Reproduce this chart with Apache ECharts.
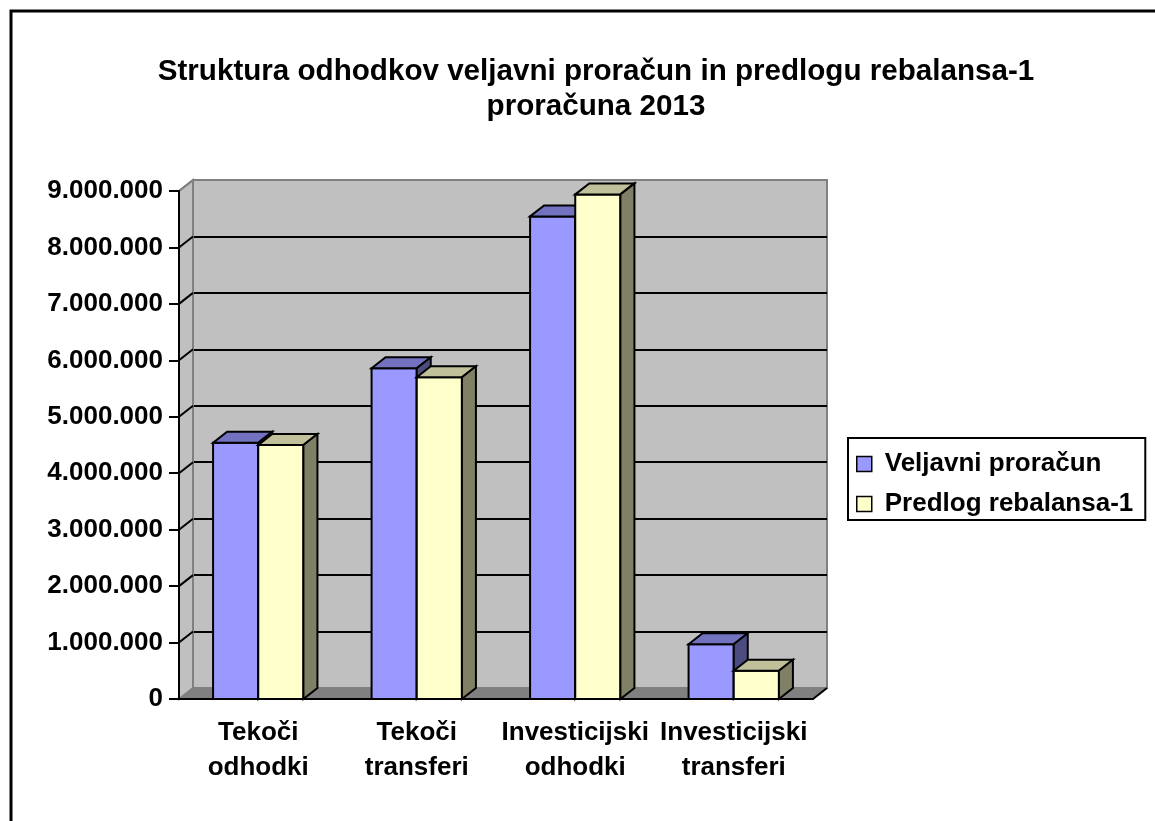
<!DOCTYPE html>
<html>
<head>
<meta charset="utf-8">
<title>Struktura odhodkov</title>
<script src="https://cdn.jsdelivr.net/npm/echarts@6/dist/echarts.min.js"></script>
<style>
	html, body {margin:0; padding:0; background:#fff;}
	#chart {width:1155px; height:821px;}
</style>
</head>
<body>
<div id="chart"></div>
<script>
// podatki
var categories = ['Tekoči\nodhodki', 'Tekoči\ntransferi', 'Investicijski\nodhodki', 'Investicijski\ntransferi'];
var seriesNames = ['Veljavni proračun', 'Predlog rebalansa-1'];
var veljavni = [4540000, 5860000, 8550000, 970000];
var predlog = [4500000, 5700000, 8940000, 500000];
var yTicks = [0, 1000000, 2000000, 3000000, 4000000, 5000000, 6000000, 7000000, 8000000, 9000000];

var DX = 14, DY = 11; // globina 3D
var FONT = '"Liberation Sans", Arial, sans-serif';
var faceColors = [
	{front: '#9999FF', top: '#7272C0', side: '#4C4C80'},
	{front: '#FFFFCC', top: '#C0C09A', side: '#808066'}
];

function fmt(v){
	return String(v).replace(/\B(?=(\d{3})+(?!\d))/g, '.');
}

function toData(arr){
	return arr.map(function(v, i){ return [i, v]; });
}

// 3D stolpec: sprednja, zgornja in stranska ploskev
function barRenderer(idx){
	return function(params, api){
		var top = api.coord([api.value(0), api.value(1)]);
		var base = api.coord([api.value(0), 0]);
		var w = api.size([1, 0])[0] * 0.285;
		var x0 = top[0] - w + idx * w, x1 = x0 + w;
		var c = faceColors[idx];
		var line = {stroke: '#000', lineWidth: 2, lineJoin: 'miter'};
		return {
			type: 'group',
			children: [
				{type: 'rect', shape: {x: x0, y: top[1], width: w, height: base[1] - top[1]},
					style: Object.assign({fill: c.front}, line)},
				{type: 'polygon', shape: {points: [[x0, top[1]], [x0 + DX, top[1] - DY], [x1 + DX, top[1] - DY], [x1, top[1]]]},
					style: Object.assign({fill: c.top}, line)},
				{type: 'polygon', shape: {points: [[x1, top[1]], [x1 + DX, top[1] - DY], [x1 + DX, base[1] - DY], [x1, base[1]]]},
					style: Object.assign({fill: c.side}, line)}
			]
		};
	};
}

// leva stena, tla in poševne črte mreže
function frameRenderer(params, api){
	var cs = params.coordSys;
	var v = api.value(0);
	var y = api.coord([0, v])[1];
	var children = [];
	if (params.dataIndex === 0){
		children.push({type: 'polygon', shape: {points: [[cs.x, cs.y], [cs.x + DX, cs.y - DY], [cs.x + DX, cs.y + cs.height - DY], [cs.x, cs.y + cs.height]]},
			style: {fill: '#C0C0C0', stroke: '#808080', lineWidth: 2}});
		children.push({type: 'polygon', shape: {points: [[cs.x, cs.y + cs.height], [cs.x + DX, cs.y + cs.height - DY], [cs.x + cs.width + DX, cs.y + cs.height - DY], [cs.x + cs.width, cs.y + cs.height]]},
			style: {fill: '#808080', stroke: '#808080', lineWidth: 1}});
		children.push({type: 'line', shape: {x1: cs.x + cs.width, y1: cs.y + cs.height, x2: cs.x + cs.width + DX, y2: cs.y + cs.height - DY},
			style: {stroke: '#000', lineWidth: 2}});
	} else {
		children.push({type: 'line', shape: {x1: cs.x, y1: y, x2: cs.x + DX, y2: y - DY},
			style: {stroke: params.dataIndex === yTicks.length - 1 ? '#808080' : '#000', lineWidth: 2}});
	}
	return {type: 'group', children: children};
}

var chart = echarts.init(document.getElementById('chart'));
var option = {
	backgroundColor: '#fff',
	animation: false,
	title: {
		text: 'Struktura odhodkov veljavni proračun in predlogu rebalansa-1\nproračuna 2013',
		left: 591,
		top: 49,
		textAlign: 'center',
		textStyle: {fontFamily: FONT, fontSize: 29.6, fontWeight: 'bold', color: '#000', lineHeight: 35}
	},
	legend: {
		orient: 'vertical',
		left: 848,
		top: 438,
		padding: [13, 12, 3, 8],
		itemGap: 14,
		itemWidth: 15,
		itemHeight: 15,
		borderColor: '#000',
		borderWidth: 2,
		icon: 'rect',
		textStyle: {fontFamily: FONT, fontSize: 26, fontWeight: 'bold', color: '#000', padding: [0, 0, 0, 8]},
		data: [
			{name: seriesNames[0], itemStyle: {color: faceColors[0].front, borderColor: '#000', borderWidth: 1.5}},
			{name: seriesNames[1], itemStyle: {color: faceColors[1].front, borderColor: '#000', borderWidth: 1.5}}
		]
	},
	graphic: [{
		type: 'rect',
		shape: {x: 11, y: 11, width: 1400, height: 1000},
		style: {fill: null, stroke: '#000', lineWidth: 3},
		silent: true
	}],
	grid: [
		// sprednja ravnina
		{left: 179, right: 342, top: 191, bottom: 122},
		// zadnja stena
		{left: 193, right: 328, top: 180, bottom: 133, show: true, backgroundColor: '#C0C0C0', borderColor: '#808080', borderWidth: 2}
	],
	xAxis: [
		{
			type: 'category', gridIndex: 0, data: categories, z: 10,
			axisLine: {lineStyle: {color: '#000', width: 2}},
			axisTick: {length: 10, lineStyle: {color: '#000', width: 2}},
			axisLabel: {margin: 16, fontFamily: FONT, fontSize: 26, fontWeight: 'bold', color: '#000', lineHeight: 35, interval: 0}
		},
		{type: 'category', gridIndex: 1, data: categories, show: false}
	],
	yAxis: [
		{
			type: 'value', gridIndex: 0, min: 0, max: 9000000, interval: 1000000, z: 10,
			axisLine: {show: true, lineStyle: {color: '#000', width: 2}},
			axisTick: {show: true, length: 10, lineStyle: {color: '#000', width: 2}},
			splitLine: {show: false},
			axisLabel: {margin: 16, fontFamily: FONT, fontSize: 26, fontWeight: 'bold', color: '#000', formatter: fmt}
		},
		{
			type: 'value', gridIndex: 1, min: 0, max: 9000000, interval: 1000000,
			axisLine: {show: false}, axisTick: {show: false}, axisLabel: {show: false},
			splitLine: {show: true, showMinLine: false, showMaxLine: false, lineStyle: {color: '#000', width: 2}}
		}
	],
	series: [
		{
			type: 'custom', name: 'frame', xAxisIndex: 0, yAxisIndex: 0, z: 1,
			renderItem: frameRenderer,
			encode: {x: -1, y: 0},
			data: yTicks.map(function(v){ return [v]; }),
			silent: true, clip: false
		},
		{
			type: 'custom', name: seriesNames[0], xAxisIndex: 0, yAxisIndex: 0, z: 3,
			itemStyle: {color: faceColors[0].front},
			renderItem: barRenderer(0),
			encode: {x: 0, y: 1},
			data: toData(veljavni), clip: false
		},
		{
			type: 'custom', name: seriesNames[1], xAxisIndex: 0, yAxisIndex: 0, z: 3,
			itemStyle: {color: faceColors[1].front},
			renderItem: barRenderer(1),
			encode: {x: 0, y: 1},
			data: toData(predlog), clip: false
		}
	]
};
chart.setOption(option);
</script>
</body>
</html>
